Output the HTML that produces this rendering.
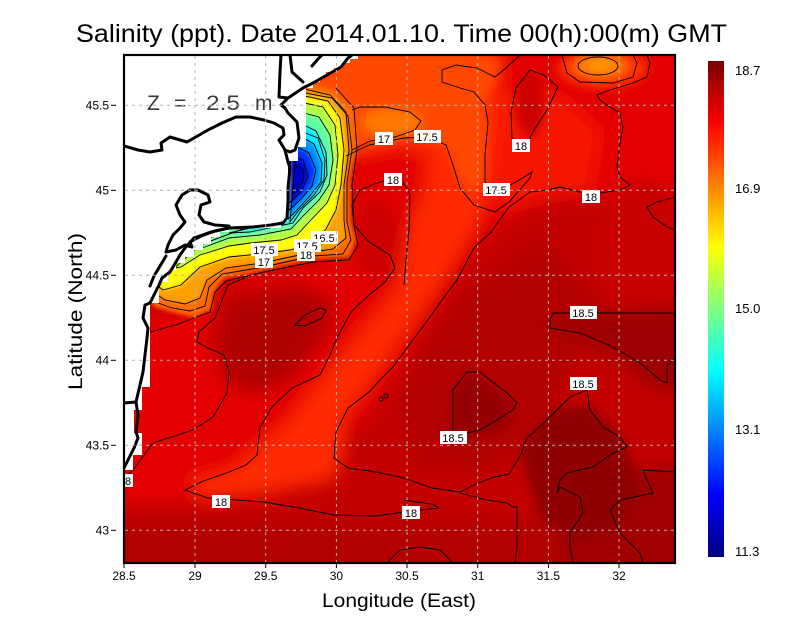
<!DOCTYPE html>
<html><head><meta charset="utf-8"><style>
html,body{margin:0;padding:0;background:#fff;}
svg{display:block;}
text{font-family:"Liberation Sans",sans-serif;}
</style></head><body>
<svg width="800" height="618" viewBox="0 0 800 618" xmlns="http://www.w3.org/2000/svg">
<defs>
<clipPath id="pc"><rect x="124" y="55" width="551" height="508"/></clipPath>
<filter id="b9" x="-20%" y="-20%" width="140%" height="140%"><feGaussianBlur stdDeviation="9"/></filter>
<filter id="b5" x="-20%" y="-20%" width="140%" height="140%"><feGaussianBlur stdDeviation="5"/></filter>
<filter id="b2" x="-20%" y="-20%" width="140%" height="140%"><feGaussianBlur stdDeviation="2"/></filter>
<linearGradient id="jet" x1="0" y1="0" x2="0" y2="1">
<stop offset="0" stop-color="#7a0000"/>
<stop offset="0.125" stop-color="#ff0000"/>
<stop offset="0.375" stop-color="#ffff00"/>
<stop offset="0.625" stop-color="#00ffff"/>
<stop offset="0.875" stop-color="#0000ff"/>
<stop offset="1" stop-color="#000080"/>
</linearGradient>
</defs>
<rect width="800" height="618" fill="#fff"/>

<g clip-path="url(#pc)">
<rect x="124" y="55" width="551" height="508" fill="#c40000"/>
<g filter="url(#b9)">
<polygon fill="#e40600" points="290,40 690,40 690,200 620,200 560,195 520,210 480,240 450,285 420,330 395,375 370,410 345,440 320,470 280,488 220,500 110,505 110,320 170,315 210,295 250,275 330,262 350,220 340,150 300,100"/>
<ellipse cx="378" cy="240" rx="24" ry="42" fill="#cc0000"/>
<ellipse cx="645" cy="250" rx="50" ry="70" fill="#c80000"/>
<polygon fill="#f81200" points="490,95 560,95 600,130 590,190 540,200 500,210 490,150"/>
<polygon fill="#ff2c00" points="300,45 500,45 500,90 492,150 490,190 475,228 439,288 390,355 341,422 345,450 334,480 260,495 200,500 190,480 229,472 288,422 341,355 397,288 410,225 425,190 430,155 400,145 355,155 330,140 306,100"/>
<polygon fill="#b00000" points="225,295 300,285 335,300 325,340 290,380 255,395 225,380 212,340"/>
<polygon fill="#b40000" points="455,300 540,240 600,300 560,400 500,470 420,470 400,410 420,350"/>
<polygon fill="#9c0000" points="540,322 600,312 690,308 690,395 650,385 610,352 560,335"/>
<polygon fill="#b40000" points="110,520 560,520 560,580 110,580"/>
<polygon fill="#a00000" points="560,470 690,465 690,580 560,580"/>
</g>
<g filter="url(#b5)">
<polygon fill="#ff4a00" points="306,50 470,50 500,60 495,80 485,100 487,130 485,180 470,195 455,170 448,148 420,138 380,145 350,152 330,125 306,100"/>
<ellipse cx="530" cy="105" rx="14" ry="32" fill="#cc0000"/>
<ellipse cx="392" cy="122" rx="30" ry="13" fill="#ff7a00"/>
<ellipse cx="603" cy="68" rx="45" ry="20" fill="#ff3000"/>
<ellipse cx="600" cy="66" rx="26" ry="11" fill="#ff8000"/>
<ellipse cx="600" cy="64" rx="12" ry="5" fill="#ffa000"/>
<polygon fill="#960000" points="450,438 452,390 470,372 492,385 514,405 508,428 488,435"/>
<polygon fill="#900000" points="520,450 550,410 590,405 625,440 640,490 615,530 575,540 540,520"/>
</g>
<g filter="url(#b2)">
<polygon fill="#ff6a00" points="300,80 335,90 354,110 356,150 350,180 351,222 356,240 349,257 313,259 290,264 264,270 224,278 214,292 211,310 194,317 176,313 155,307 140,290 200,240 280,215 285,150"/>
<polygon fill="#ffa000" points="300,88 330,95 346,112 349,150 344,185 344,220 346,238 333,249 313,252 290,257 262,263 226,268 207,280 200,298 185,304 165,300 150,290 200,245 280,215 285,150"/>
<polygon fill="#ffff00" points="300,95 328,101 340,118 344,150 341,185 336,210 326,229 313,243 290,250 260,254 229,257 200,267 181,285 163,290 150,280 200,245 280,215 285,150"/>
<polygon fill="#b0ff40" points="300,102 323,107 335,125 338,155 335,185 327,203 309,222 297,235 281,240 250,243 229,246 200,255 181,267 165,270 175,248 230,225 285,215 290,150"/>
<polygon fill="#60ffa0" points="300,112 319,117 330,135 333,160 329,185 319,200 303,216 291,229 260,235 229,238 205,247 190,251 230,225 285,215 292,150"/>
<polygon fill="#00f0ff" points="300,123 316,131 326,152 327,175 320,192 303,208 293,223 250,232 229,233 285,220 290,160"/>
<polygon fill="#0090ff" points="298,135 314,144 322,163 321,182 309,197 295,212 288,219 288,150"/>
<polygon fill="#0030ff" points="293,145 309,153 316,170 312,186 300,200 288,211 288,150"/>
<polygon fill="#0000c8" points="290,155 303,160 308,176 301,192 288,204"/>
</g>

<g fill="none" stroke="#000" stroke-width="0.9">
<polygon points="300,88 330,95 346,112 349,150 344,185 344,220 346,238 333,249 313,252 290,257 262,263 226,268 207,280 200,298 185,304 165,300 150,290 200,245 280,215 285,150"/>
<polygon points="300,95 328,101 340,118 344,150 341,185 336,210 326,229 313,243 290,250 260,254 229,257 200,267 181,285 163,290 150,280 200,245 280,215 285,150"/>
<polygon points="300,102 323,107 335,125 338,155 335,185 327,203 309,222 297,235 281,240 250,243 229,246 200,255 181,267 165,270 175,248 230,225 285,215 290,150"/>
<polygon points="300,112 319,117 330,135 333,160 329,185 319,200 303,216 291,229 260,235 229,238 205,247 190,251 230,225 285,215 292,150"/>
<polygon points="300,123 316,131 326,152 327,175 320,192 303,208 293,223 250,232 229,233 285,220 290,160"/>
<polygon points="298,135 314,144 322,163 321,182 309,197 295,212 288,219 288,150"/>
<polygon points="293,145 309,153 316,170 312,186 300,200 288,211 288,150"/>
<polygon points="290,155 303,160 308,176 301,192 288,204"/>
<polygon points="295,165 304,170 303,182 292,194"/>
<polygon points="298,130 318,138 325,160 324,180 314,195 299,210 290,222"/>
<polyline points="300,92 332,98 348,116 352,150 347,182 347,222 351,240 343,254 313,256 290,261 264,267 222,274 209,287 205,306 190,311 172,308 150,300"/>
<polyline points="150,332 176,325 194,318 210,312 215,292 226,281 264,272 313,262 349,260 358,245 354,225 352,185 357,150 354,108 336,88"/>
<polyline points="352,150 370,141 395,137 415,130 421,121 410,112 385,107 360,107 352,110"/>
<polyline points="346,156 369,145 404,138 428,137 446,145 453,165 460,188 474,205 495,212 509,202 530,178 532,172 516,182 495,192 485,182 485,155 488,122 485,105 474,92 460,88 442,82 442,70 456,65 477,68 495,77 506,68 520,55"/>
<polygon points="526,146 512,138 511,112 516,88 530,70 544,75 558,87 548,108 533,132"/>
<polyline points="562,55 567,73 580,82 613,83 633,77 637,63 633,55"/>
<ellipse cx="598" cy="66" rx="20" ry="9"/>
<polyline points="509,207 530,192 547,190 560,187 580,192 600,193 620,190 630,185 620,177 617,167 620,143 623,127 620,113 610,107 600,100 597,95 610,90 633,83 647,77 650,63 647,55"/>
<polyline points="675,197 657,202 647,207 653,217 667,227 675,230"/>
<polyline points="393,180 380,182 360,190 352,205 354,225 369,242 390,255 395,268 385,282 369,295 351,312 337,338 330,355 320,375 292,388 271,408 260,428 257,455 246,465 229,472 201,482 185,490 208,498 264,502 299,508 334,515 375,516 404,512 439,508 432,504 404,500"/>
<polyline points="403,182 410,195 409,230 406,260 404,285"/>
<polyline points="509,207 491,232 474,248 457,280 447,293 433,313 413,340 393,367 380,380 369,392 348,408 336,432 334,458 348,468 376,472 404,478 432,488 460,492 474,485 491,478 509,474 520,456 527,438 547,420 570,397 587,390"/>
<polygon points="453,435 453,390 467,372 480,372 490,380 507,393 517,403 513,410 497,420 480,430 467,433"/>
<polyline points="550,320 553,313 580,313 620,313 675,313"/>
<polyline points="550,320 550,328 580,333 613,347 640,363 660,380 667,383 667,367 675,357"/>
<polyline points="587,390 590,410 603,427 620,437 627,447 613,453 593,467 567,473 560,480 557,493 560,487 580,497 583,513 570,533 570,547 573,563"/>
<polyline points="675,472 643,470 647,480 653,493 620,500 610,510 620,533 640,553 643,563"/>
<polyline points="460,493 487,500 507,503 513,507 517,507 517,547 515,563"/>
<polyline points="387,563 400,550 420,547 440,550 453,563"/>
<polyline points="125,477 133,470 153,443 193,430 213,417 227,393 229,372 224,355 208,348 197,342 199,332 215,318 222,300 228,285 245,278"/>
<polygon points="295,325 305,315 320,308 326,310 322,318 305,326"/>
<circle cx="381" cy="399" r="2"/>
<circle cx="386" cy="396" r="2"/>
</g>

<polygon fill="#fff" points="124,55 358,55 358,59 350,59 350,63 342,63 342,68 334,68 334,72 326,72 326,77 320,77 320,82 313,82 313,88 306,88 306,147 298,147 298,161 288,161 288,221 281,221 281,228 229,228 229,232 220,232 220,237 211,237 211,244 203,244 203,250 194,250 194,257 185,257 185,263 176,263 176,270 168,270 168,282 159,282 159,303 150,303 150,387 142,387 142,410 134,410 134,433 142,433 142,455 133,455 133,470 124,470"/>

<g fill="none" stroke="#000" stroke-width="3" stroke-linejoin="round" stroke-linecap="round">
<polyline points="124,146 138,150 150,152 162,150 161,143 170,137 187,142 194,138 208,130 222,123 236,117 250,117 264,120 274,123 283,128 284,135 279,140 285,150 288,162 290,168 288,188 288,202 287,218 283,223 271,225 253,227 229,228 211,232 194,238"/>
<polyline points="285,150 290,152 295,150 299,138 297,122 292,117 288,113 285,108 281,105 288,98 303,88 313,83 327,75 341,67 348,58 352,55"/>
<polyline points="281,55 280,72 279,97 288,98"/>
<polyline points="290,55 292,72 303,82"/>
<polyline points="312,66 318,59 322,55"/>
<polyline points="190,190 182,195 176,205 180,215 185,222 180,228 173,235 168,245 166,252 176,250 185,245 192,247 190,242"/>
<polyline points="190,190 198,190 208,195 210,202 201,205 199,215 204,222 215,225 229,226"/>
<polyline points="190,242 201,236 215,231 229,228"/>
<polyline points="194,238 185,248 180,255 176,262 170,272 162,278 159,285 150,303 145,305 143,318 148,328 147,338 145,355 143,372 140,385 136,402 138,415 136,432 138,438 134,448 129,458 124,468"/>
<polyline points="166,256 160,266 154,276 150,286"/>
<polyline points="124,403 136,402"/>
</g>

<g font-size="11" text-anchor="middle">
<rect x="375" y="132" width="18" height="13" fill="#fff"/><text x="384" y="143">17</text>
<rect x="414" y="130" width="27" height="13" fill="#fff"/><text x="427" y="141">17.5</text>
<rect x="384" y="173" width="18" height="13" fill="#fff"/><text x="393" y="184">18</text>
<rect x="483" y="183" width="27" height="13" fill="#fff"/><text x="496" y="194">17.5</text>
<rect x="512" y="139" width="18" height="13" fill="#fff"/><text x="521" y="150">18</text>
<rect x="582" y="190" width="18" height="13" fill="#fff"/><text x="591" y="201">18</text>
<rect x="311" y="231" width="27" height="13" fill="#fff"/><text x="324" y="242">16.5</text>
<rect x="294" y="239" width="27" height="13" fill="#fff"/><text x="307" y="250">17.5</text>
<rect x="297" y="248" width="18" height="13" fill="#fff"/><text x="306" y="259">18</text>
<rect x="251" y="243" width="27" height="13" fill="#fff"/><text x="264" y="254">17.5</text>
<rect x="255" y="255" width="18" height="13" fill="#fff"/><text x="264" y="266">17</text>
<rect x="570" y="306" width="27" height="13" fill="#fff"/><text x="583" y="317">18.5</text>
<rect x="570" y="377" width="27" height="13" fill="#fff"/><text x="583" y="388">18.5</text>
<rect x="440" y="431" width="27" height="13" fill="#fff"/><text x="453" y="442">18.5</text>
<rect x="212" y="495" width="18" height="13" fill="#fff"/><text x="221" y="506">18</text>
<rect x="402" y="506" width="18" height="13" fill="#fff"/><text x="411" y="517">18</text>
<rect x="124" y="474" width="9" height="13" fill="#fff"/><text x="128" y="485">8</text>
</g>

<g fill="#3a3a3a" font-size="21">
<text x="147" y="110">Z</text>
<text x="174" y="110">=</text>
<text x="206" y="110" textLength="34" lengthAdjust="spacingAndGlyphs">2.5</text>
<text x="255" y="110">m</text>
</g>
</g>

<g stroke="#b4b4b4" stroke-width="1" stroke-dasharray="3,4" fill="none">
<line x1="195" y1="56" x2="195" y2="562"/>
<line x1="265.7" y1="56" x2="265.7" y2="562"/>
<line x1="336.4" y1="56" x2="336.4" y2="562"/>
<line x1="407" y1="56" x2="407" y2="562"/>
<line x1="477.7" y1="56" x2="477.7" y2="562"/>
<line x1="548.4" y1="56" x2="548.4" y2="562"/>
<line x1="619" y1="56" x2="619" y2="562"/>
<line x1="125" y1="105.3" x2="674" y2="105.3"/>
<line x1="125" y1="190.3" x2="674" y2="190.3"/>
<line x1="125" y1="275.3" x2="674" y2="275.3"/>
<line x1="125" y1="360.3" x2="674" y2="360.3"/>
<line x1="125" y1="445.3" x2="674" y2="445.3"/>
<line x1="125" y1="530.3" x2="674" y2="530.3"/>
</g>

<rect x="124" y="55" width="551" height="508" fill="none" stroke="#000" stroke-width="2.2"/>

<g stroke="#000" stroke-width="1">
<line x1="124" y1="563" x2="124" y2="568"/>
<line x1="195" y1="563" x2="195" y2="568"/>
<line x1="265.7" y1="563" x2="265.7" y2="568"/>
<line x1="336.4" y1="563" x2="336.4" y2="568"/>
<line x1="407" y1="563" x2="407" y2="568"/>
<line x1="477.7" y1="563" x2="477.7" y2="568"/>
<line x1="548.4" y1="563" x2="548.4" y2="568"/>
<line x1="619" y1="563" x2="619" y2="568"/>
<line x1="111" y1="105.3" x2="116" y2="105.3"/>
<line x1="111" y1="190.3" x2="116" y2="190.3"/>
<line x1="111" y1="275.3" x2="116" y2="275.3"/>
<line x1="111" y1="360.3" x2="116" y2="360.3"/>
<line x1="111" y1="445.3" x2="116" y2="445.3"/>
<line x1="111" y1="530.3" x2="116" y2="530.3"/>
</g>

<g font-size="12" text-anchor="middle" fill="#000">
<text x="124" y="580">28.5</text>
<text x="195" y="580">29</text>
<text x="265.7" y="580">29.5</text>
<text x="336.4" y="580">30</text>
<text x="407" y="580">30.5</text>
<text x="477.7" y="580">31</text>
<text x="548.4" y="580">31.5</text>
<text x="619" y="580">32</text>
</g>
<g font-size="12" text-anchor="end" fill="#000">
<text x="109" y="109.5">45.5</text>
<text x="109" y="194.5">45</text>
<text x="109" y="279.5">44.5</text>
<text x="109" y="364.5">44</text>
<text x="109" y="449.5">43.5</text>
<text x="109" y="534.5">43</text>
</g>

<text x="76" y="42" font-size="25" textLength="651" lengthAdjust="spacingAndGlyphs">Salinity (ppt). Date 2014.01.10. Time 00(h):00(m) GMT</text>
<text x="322" y="607" font-size="19" textLength="154" lengthAdjust="spacingAndGlyphs">Longitude (East)</text>
<text transform="translate(82,390) rotate(-90)" x="0" y="0" font-size="19" textLength="157" lengthAdjust="spacingAndGlyphs">Latitude (North)</text>

<rect x="708" y="61" width="16" height="496" fill="url(#jet)"/>
<g font-size="13" fill="#000">
<text x="735" y="75">18.7</text>
<text x="735" y="193">16.9</text>
<text x="735" y="313">15.0</text>
<text x="735" y="434">13.1</text>
<text x="735" y="556">11.3</text>
</g>
</svg>
</body></html>
